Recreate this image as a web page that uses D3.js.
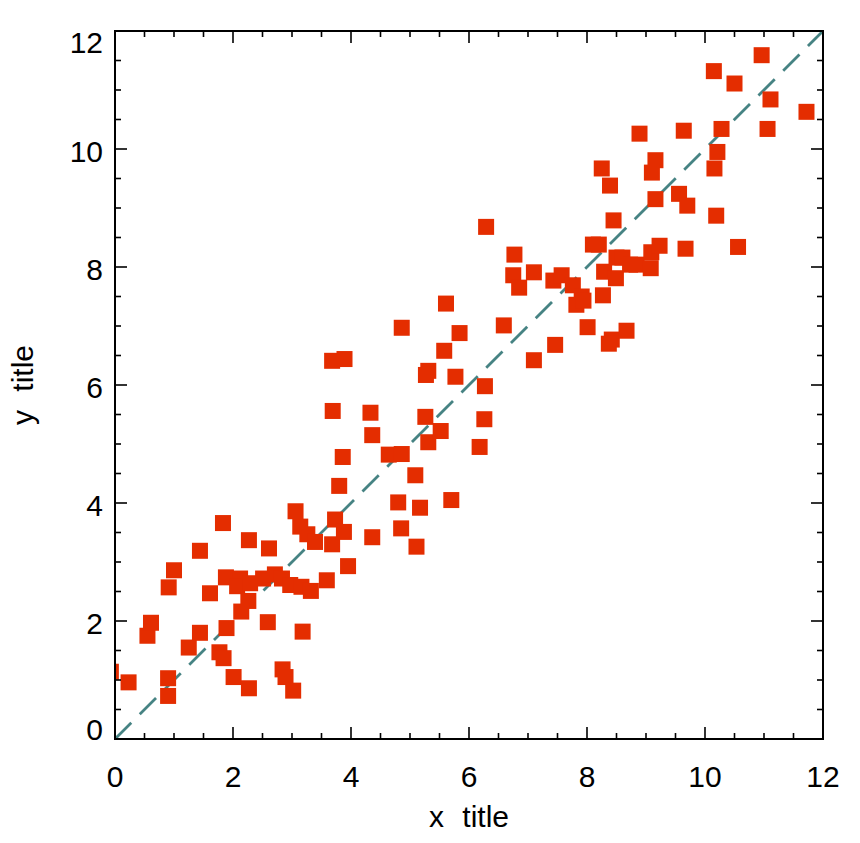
<!DOCTYPE html>
<html>
<head>
<meta charset="utf-8">
<script src="https://cdn.jsdelivr.net/npm/d3@7"></script>
<style>
  html, body { margin: 0; padding: 0; background: #ffffff; }
  svg { display: block; }
  text { font-family: "Liberation Sans", Arial, sans-serif; fill: #000; }
</style>
</head>
<body>
<svg id="chart" width="860" height="843"></svg>
<script>
// ---- data ----
const xValues = [
  -0.07, 0.23, 0.55, 0.61, 0.91, 1.00, 0.90, 0.90, 1.25, 1.44,
  1.44, 1.61, 1.83, 1.89, 1.77, 1.84, 2.01, 2.27, 1.88, 2.12,
  2.07, 2.29, 2.26, 2.14, 2.51, 2.71, 2.83, 2.97, 3.16, 3.32,
  3.59, 2.27, 2.61, 2.59, 3.18, 2.84, 2.89, 3.02, 3.06, 3.14,
  3.26, 3.39, 3.73, 3.68, 3.88, 3.95, 3.80, 3.86, 3.69, 3.68,
  3.89, 4.33, 4.36, 4.36, 4.64, 4.86, 4.80, 4.85, 4.86, 5.09,
  5.17, 5.11, 5.26, 5.31, 5.52, 5.31, 5.27, 5.58, 5.61, 5.84,
  5.77, 5.70, 6.27, 6.26, 6.18, 6.29, 6.59, 6.77, 6.75, 6.85,
  7.10, 7.10, 7.46, 7.43, 7.57, 7.76, 7.91, 7.82, 7.94, 8.01,
  8.10, 8.20, 8.27, 8.29, 8.25, 8.39, 8.45, 8.49, 8.50, 8.60,
  8.73, 8.84, 8.42, 8.37, 8.67, 8.89, 9.09, 9.23, 9.08, 9.16,
  9.10, 9.16, 9.56, 9.70, 9.64, 9.67, 10.15, 10.16, 10.21, 10.28,
  10.19, 10.56, 10.50, 10.96, 11.06, 11.11, 11.72
];
const yValues = [
  1.14, 0.96, 1.75, 1.97, 2.57, 2.86, 1.03, 0.73, 1.55, 1.80,
  3.19, 2.47, 3.66, 1.88, 1.47, 1.37, 1.05, 0.86, 2.74, 2.72,
  2.59, 2.64, 2.34, 2.16, 2.72, 2.79, 2.72, 2.61, 2.58, 2.51,
  2.69, 3.37, 3.23, 1.98, 1.82, 1.18, 1.05, 0.82, 3.86, 3.60,
  3.47, 3.34, 3.72, 3.30, 3.51, 2.93, 4.29, 4.78, 5.56, 6.41,
  6.44, 5.53, 5.15, 3.42, 4.82, 4.83, 4.01, 3.57, 6.97, 4.47,
  3.92, 3.26, 5.46, 5.03, 5.22, 6.24, 6.17, 6.58, 7.38, 6.88,
  6.14, 4.05, 5.98, 5.42, 4.95, 8.68, 7.01, 8.21, 7.86, 7.65,
  7.91, 6.42, 6.68, 7.77, 7.86, 7.69, 7.50, 7.36, 7.43, 6.98,
  8.38, 8.38, 7.52, 7.92, 9.67, 9.38, 8.79, 7.81, 8.16, 8.16,
  8.04, 8.04, 6.77, 6.70, 6.92, 10.26, 8.25, 8.36, 7.98, 9.81,
  9.60, 9.15, 9.24, 9.04, 10.31, 8.31, 11.32, 9.67, 9.95, 10.34,
  8.87, 8.34, 11.11, 11.59, 10.34, 10.84, 10.63
];
const xTickLabels = [0, 2, 4, 6, 8, 10, 12];
const yTickLabels = [0, 2, 4, 6, 8, 10, 12];
const minorTicks = d3.range(0, 12.01, 0.5);
const refLine = [[0, 0], [12, 12]];
const xTitle = "x title";
const yTitle = "y title";

// ---- layout ----
const svg = d3.select("#chart");
const pLeft = 115, pRight = 823, pTop = 31, pBottom = 739;
const x = d3.scaleLinear().domain([0, 12]).range([pLeft, pRight]);
const y = d3.scaleLinear().domain([0, 12]).range([pBottom, pTop]);

svg.append("defs").append("clipPath").attr("id", "plotclip")
  .append("rect").attr("x", pLeft).attr("y", pTop)
  .attr("width", pRight - pLeft).attr("height", pBottom - pTop);

const plot = svg.append("g").attr("clip-path", "url(#plotclip)");

// reference line
plot.append("line")
  .attr("x1", x(refLine[0][0])).attr("y1", y(refLine[0][1]))
  .attr("x2", x(refLine[1][0])).attr("y2", y(refLine[1][1]))
  .attr("stroke", "#468383").attr("stroke-width", 2.8)
  .attr("stroke-dasharray", "23,12");

// squares
const sz = 16;
plot.selectAll("rect.pt").data(xValues.map((v, i) => [v, yValues[i]]))
  .enter().append("rect").attr("class", "pt")
  .attr("x", d => x(d[0]) - sz / 2).attr("y", d => y(d[1]) - sz / 2)
  .attr("width", sz).attr("height", sz)
  .attr("fill", "#e42d00");

// frame
svg.append("rect").attr("x", pLeft).attr("y", pTop)
  .attr("width", pRight - pLeft).attr("height", pBottom - pTop)
  .attr("fill", "none").attr("stroke", "#000").attr("stroke-width", 2);

// ticks (inward on all sides)
const majorLen = 12, minorLen = 6;
const isMajor = v => Math.abs(v / 2 - Math.round(v / 2)) < 1e-6;
const tk = svg.append("g").attr("stroke", "#000").attr("stroke-width", 1.6);
minorTicks.forEach(v => {
  const L = isMajor(v) ? majorLen : minorLen;
  tk.append("line").attr("x1", x(v)).attr("x2", x(v)).attr("y1", pBottom).attr("y2", pBottom - L);
  tk.append("line").attr("x1", x(v)).attr("x2", x(v)).attr("y1", pTop).attr("y2", pTop + L);
  tk.append("line").attr("y1", y(v)).attr("y2", y(v)).attr("x1", pLeft).attr("x2", pLeft + L);
  tk.append("line").attr("y1", y(v)).attr("y2", y(v)).attr("x1", pRight).attr("x2", pRight - L);
});

// tick labels
const fs = 30;
svg.selectAll("text.xl").data(xTickLabels).enter().append("text")
  .attr("class", "xl")
  .attr("x", d => x(d)).attr("y", 787)
  .attr("text-anchor", "middle").attr("font-size", fs)
  .text(d => d);

svg.selectAll("text.yl").data(yTickLabels).enter().append("text")
  .attr("class", "yl")
  .attr("x", 103)
  .attr("y", d => {
    let py = y(d) + 13;
    if (d === 12) py = y(d) + 22;
    if (d === 0) py = y(d) + 1;
    return py;
  })
  .attr("text-anchor", "end").attr("font-size", fs)
  .text(d => d);

// titles
svg.append("text").attr("x", (pLeft + pRight) / 2).attr("y", 827)
  .attr("text-anchor", "middle").attr("font-size", fs)
  .style("word-spacing", "10px")
  .text(xTitle);

svg.append("text")
  .attr("transform", `translate(33, ${(pTop + pBottom) / 2}) rotate(-90)`)
  .attr("text-anchor", "middle").attr("font-size", fs)
  .style("word-spacing", "10px")
  .text(yTitle);
</script>
</body>
</html>
